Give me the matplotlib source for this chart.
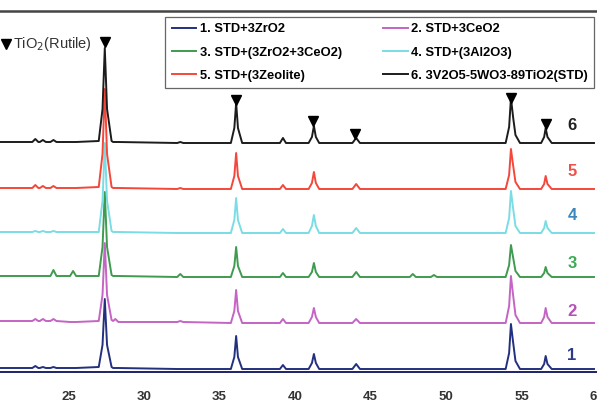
import numpy as np
import matplotlib
matplotlib.use('Agg')
import matplotlib.pyplot as plt

plt.rcParams['font.family'] = ['Liberation Sans', 'DejaVu Sans']

# shared 2-theta vertices (deg)
two_theta = [20.4,
             22.6, 22.8, 23.0, 23.1, 23.3, 23.5, 23.8, 24.0, 24.2, 25.1, 25.3, 25.5,
             27.0, 27.25, 27.4, 27.55, 27.85,
             27.95, 28.1, 28.3,
             32.2, 32.4, 32.6,
             35.75, 35.98, 36.1, 36.22, 36.5,
             39.0, 39.2, 39.4,
             40.9, 41.12, 41.25, 41.38, 41.6,
             43.8, 44.05, 44.3,
             47.6, 47.8, 48.0,
             49.0, 49.2, 49.4,
             53.95, 54.18, 54.3, 54.45, 54.6, 54.9,
             56.3, 56.5, 56.6, 56.72, 57.0,
             59.8]

# intensities (a.u.) above each pattern's own baseline
int_1 = [1,
         1, 3, 1, 1, 2, 1, 1, 2, 1, 1, 1, 1,
         2, 24, 70, 24, 2,
         1, 1, 1,
         0, 0, 0,
         0, 12, 33, 12, 0,
         0, 4, 0,
         0, 6, 15, 6, 0,
         0, 5, 0,
         0, 0, 0,
         0, 0, 0,
         0, 16, 45, 26, 8, 0,
         0, 5, 13, 5, 0,
         0]
int_2 = [2,
         2, 4, 2, 2, 4, 2, 2, 4, 2, 1, 1, 1,
         2, 28, 80, 28, 3,
         2, 4, 1,
         1, 2, 1,
         0, 12, 33, 12, 0,
         0, 4, 0,
         0, 6, 15, 6, 0,
         0, 4, 0,
         0, 0, 0,
         0, 0, 0,
         0, 17, 47, 27, 8, 0,
         0, 6, 15, 6, 0,
         0]
int_3 = [1,
         1, 1, 1, 1, 1, 1, 1, 7, 1, 1, 6, 1,
         1, 30, 85, 30, 2,
         1, 1, 1,
         0, 3, 0,
         0, 11, 30, 11, 0,
         0, 4, 0,
         0, 5, 14, 5, 0,
         0, 5, 0,
         0, 3, 0,
         0, 2, 0,
         0, 12, 32, 19, 6, 0,
         0, 4, 10, 4, 0,
         0]
int_4 = [1,
         1, 2, 1, 1, 2, 1, 1, 2, 1, 1, 1, 1,
         1, 32, 90, 32, 2,
         1, 1, 1,
         0, 0, 0,
         0, 13, 35, 13, 0,
         0, 4, 0,
         0, 7, 18, 7, 0,
         0, 5, 0,
         0, 0, 0,
         0, 0, 0,
         0, 15, 42, 24, 7, 0,
         0, 5, 12, 5, 0,
         0]
int_5 = [1,
         1, 4, 1, 1, 3, 1, 1, 3, 1, 1, 1, 1,
         2, 35, 100, 35, 2,
         1, 1, 1,
         0, 1, 0,
         0, 13, 36, 13, 0,
         0, 4, 0,
         0, 6, 17, 6, 0,
         0, 5, 0,
         0, 0, 0,
         0, 0, 0,
         0, 14, 40, 23, 7, 0,
         0, 5, 13, 5, 0,
         0]
int_6 = [1,
         1, 4, 1, 1, 3, 1, 1, 3, 1, 1, 1, 1,
         2, 34, 95, 34, 2,
         1, 1, 1,
         0, 1, 0,
         0, 15, 40, 15, 0,
         0, 5, 0,
         0, 6, 17, 6, 0,
         0, 5, 0,
         0, 0, 0,
         0, 0, 0,
         0, 16, 45, 25, 8, 0,
         0, 6, 15, 6, 0,
         0]

offsets = [3, 49, 95, 139, 183, 229]
labels = ['1. STD+3ZrO2', '2. STD+3CeO2', '3. STD+(3ZrO2+3CeO2)',
          '4. STD+(3Al2O3)', '5. STD+(3Zeolite)', '6. 3V2O5-5WO3-89TiO2(STD)']
line_colors = ['#22307f', '#c464c4', '#3f9b4f', '#7adde4', '#f4473a', '#1c1c1c']
num_colors = ['#2b3a8c', '#b550b5', '#3daa55', '#3a86bf', '#f0504a', '#222222']

# rutile peak markers (2theta, height)
rutile_pos = [27.4, 36.1, 41.2, 44.0, 54.3, 56.6]
rutile_mark = [330, 272, 251, 238, 274, 248]

num_y = [17, 60, 109, 156, 200, 246]

fig = plt.figure(figsize=(5.97, 4.12), dpi=100)
ax = fig.add_axes([0, 40 / 412, 1, 361 / 412])

series = [int_1, int_2, int_3, int_4, int_5, int_6]
handles = []
for i, s in enumerate(series):
    y = np.array(s) + offsets[i]
    h, = ax.plot(two_theta, y, color=line_colors[i], lw=1.4, label=labels[i])
    handles.append(h)
    ax.text(58.35, num_y[i], str(i + 1), color=num_colors[i], fontsize=12,
            fontweight='bold', ha='center', va='center')

ax.plot(rutile_pos, rutile_mark, 'v', color='black', ms=7, ls='none')
ax.plot([20.86], [328], 'v', color='black', ms=7)
ax.text(21.35, 328, 'TiO$_2$(Rutile)', fontsize=10.5, color='#333333', va='center')

ax.set_xlim(20.46, 59.74)
ax.set_ylim(0, 361)
ax.set_yticks([])
ax.set_xticks([25, 30, 35, 40, 45, 50, 55, 60])
ax.tick_params(axis='x', length=0, pad=14, labelsize=9.5, labelcolor='#333333')
for lab in ax.get_xticklabels():
    lab.set_fontweight('bold')
ax.spines['left'].set_visible(False)
ax.spines['right'].set_visible(False)
ax.spines['top'].set_color('#444444')
ax.spines['top'].set_linewidth(1.8)
ax.spines['bottom'].set_color('#1c2266')
ax.spines['bottom'].set_linewidth(1.4)

order = [0, 2, 4, 1, 3, 5]
leg = ax.legend([handles[k] for k in order], [labels[k] for k in order],
                ncol=2, loc='upper right', bbox_to_anchor=(594 / 597, 1 - 17 / 412),
                bbox_transform=fig.transFigure, borderaxespad=0,
                prop={'weight': 'bold', 'size': 9.3}, handlelength=1.9,
                handletextpad=0.25, columnspacing=3.2, labelspacing=0.85,
                borderpad=0.5, fancybox=False, framealpha=1, edgecolor='#666666')
leg.get_frame().set_linewidth(0.9)

fig.savefig('out.png', dpi=100)
